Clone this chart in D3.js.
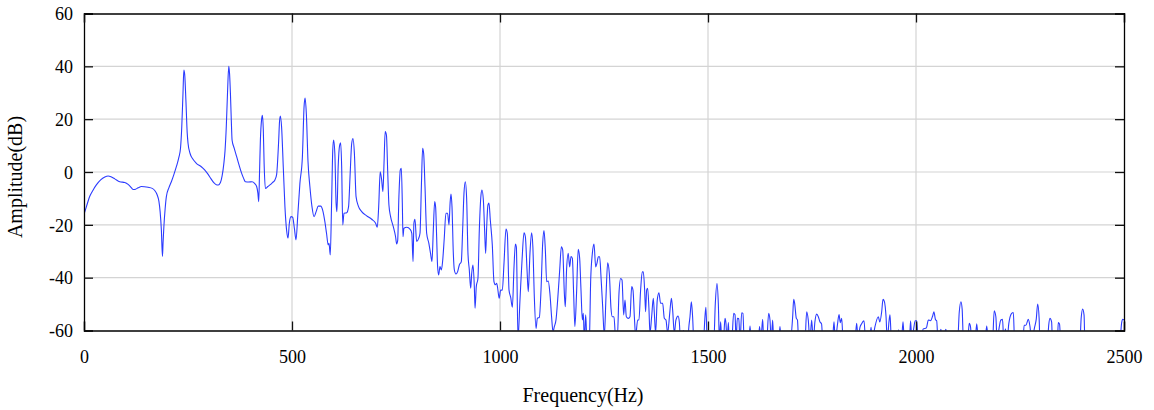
<!DOCTYPE html>
<html>
<head>
<meta charset="utf-8">
<script src="https://cdn.jsdelivr.net/npm/d3@7"></script>
<style>
  body { margin: 0; background: #fff; }
  svg text { font-family: "Liberation Serif", "Times New Roman", serif; fill: #000; }
</style>
</head>
<body>
<div id="chart"></div>
<script>
// spectrum, [frequency Hz, amplitude dB]; values under -60 are clipped
var lowBand = [
    [0,-16],[6,-13],[13.6,-9.3],[22,-6.8],[29.7,-4.9],[40,-3],[50,-1.9],[58,-1.5],[66,-1.9],[74,-2.6],
    [86,-3.7],[98,-4],[106,-4.7],[112,-5.6],[118,-6.6],[124,-6.5],[130,-6],[138,-5.5],[154,-5.8],[164,-6.2],
    [170,-7],[176,-8.7],[180,-11],[183,-15],[186,-22],[188.6,-32],[190,-27],[192,-20.7],[195,-14],[198,-9.3],
    [204,-6],[210,-3.7],[216,-1],[222,2],[228,5.5],[232,9],[235,17],[238,30],[240,38.6],[242,37],
    [245,27],[248,15],[250,11],[255,7],[262,4.8],[270,3.3],[282,2],[290,0.8],[298,-0.8],[305,-2.5],
    [312,-4],[318,-4.8],[323,-4.9],[328,-4],[332,-1.5],[336,3],[339,8],[342,17],[345,30],[348,40],
    [350,37],[352,29.7],[354,20],[356,12],[361,9],[367,5.8],[373,2.5],[379,-0.5],[384,-2.5],[388,-3.7],
    [396,-3.8],[404,-3.7],[410,-4.3],[415,-5.5],[418,-8],[420,-11.2],[422,0],[424,12],[427,20],[429,21.5],
    [431,16],[433,3],[436,-6.2],[442,-5.5],[447,-4.9],[453,-4],[459,-3],[463,-1],[465,3],[468,12],
    [470,19],[472,21.2],[475,17],[479,2],[483,-13.1],[487,-22],[490.4,-25],[493.6,-19.4],[497.6,-16.9],[501.6,-17.1],
    [505.7,-21.3],[509.7,-25.7],[513.7,-16.9],[519,-4.3],[525,5.8],[529,24.7],[531.5,28],[534.5,22],[538.5,3.9],[543,-5.5],
    [548,-13.1],[553,-16.9],[558,-15],[563,-12.9],[569,-12.9],[574,-14.6],[579,-18.8],[583,-23.2],[587,-27.6],[589,-27],
    [592,-31.4],[595,-13.1],[598,8.3],[600,12.1],[603,7],[606,-11.8],[608,-15],[611,2],[614.6,10.2],[617,11.1],
    [619.4,2],[622,-20],[625,-15.6],[631.5,-15.4],[636,-13.1],[639.5,-1.8],[643.5,10.8],[646.7,12.7],[650,7],[654,-9.3],
    [659.5,-12.9],[667.5,-15],[679.5,-16.6],[691.6,-17.9],[701,-19.4],[705,-20.9],[708.4,-13.1],[712,0.1],[715.5,-3],[718.5,-7.4],
    [721.2,3.3],[724,15.3],[727,14],[730,0.5],[733,-12.5],[737,-16.9],[743.5,-20.7],[749,-24.5],[751.6,-27.2],[754,-26],
    [757,-9.3],[760.4,0.8],[762.8,1.4],[765.2,-11.8],[766.8,-24.5],[769,-21.3],[776,-20.9],[784,-21.7],[788,-23.2],[791,-33.9],
    [793,-19.4],[795.6,-17.9],[799.6,-26.3],[804.5,-25.1],[807.7,-23.2],[811,-5.5],[814,9],[816.5,7],[819.7,-5.5],[823.7,-23.2],
    [829,-27],[833,-30.8],[836.5,-33.9],[839.7,-21.9],[843,-11.2],[845.3,-13.4],[847.7,-24.5],[850,-35.8],[852.5,-39],[855.7,-35.8],
    [859,-37.1],[862,-33.9],[866,-25.1],[870,-15.6],[874,-15.6],[877.4,-20],[880,-11.8],[882.2,-8.3],[884.6,-13.1],[887.8,-30.8],
    [890.2,-37],[894.2,-38.6],[898.2,-37.7],[902.2,-35.2],[907,-33.9],[910.2,-21.9],[913.4,-8.1],[916.6,-3.7],[919.8,-10],[923,-30.8],
    [926.2,-37],[929.5,-44],[932,-38.3],[935,-35.2],[938.3,-43.4],[940,-51.6],[943,-43.4],[947,-40.2],[950.3,-21.9],[954.3,-8.7],
    [956.7,-6.8],[960,-10.6],[963,-21.9],[965.5,-30.8],[968,-20.7],[971,-12.5],[973.5,-11.8],[976.7,-18.2],[981.5,-27.6],[985.5,-41.5],
    [988.8,-42.7],[992,-42.1],[994.4,-44],[998,-47.8]
];

var midBand = [
    [1001.6,-44.7],[1005.6,-44.7],[1009.6,-34.6],[1014.4,-21.6],[1017.6,-23.3],[1021.7,-44.7],[1025.7,-47.5],[1029.7,-51.2],[1033.7,-35.9],[1037,-27.3],
    [1039.3,-28.3],[1043.3,-63],[1048,-48.5],[1053,-33.3],[1057.7,-23],[1061,-24.5],[1065,-37.1],[1068,-45.3],[1072,-30.8],[1076,-23],
    [1079,-28.3],[1082.5,-47.2],[1086.6,-59.2],[1089.8,-55.4],[1094.6,-55],[1098.6,-44.7],[1102.6,-27],[1105.8,-22.2],[1109,-29.5],[1112.2,-41.5],
    [1116,-41.3],[1120,-46],[1124,-54.8],[1127.4,-60.5],[1130.6,-58.5],[1134.6,-56],[1138.6,-48.5],[1143.5,-37.1],[1147.5,-28.3],[1150.7,-29.5],
    [1154.7,-46],[1157,-51],[1160,-37.1],[1164,-30.8],[1167.5,-35.9],[1170.7,-32],[1174,-32.7],[1177,-46],[1180,-58.5],[1184,-46],
    [1188,-29.3],[1191.5,-32.7],[1194.7,-44.7],[1198,-56],[1200.3,-53.5],[1202.7,-64],[1206,-54.1],[1209,-64],[1214.8,-63],[1218,-40.9],
    [1222,-30.8],[1226,-27.3],[1230,-35.9],[1233,-34.6],[1236.4,-32.1],[1239.6,-32.1],[1242.8,-39.7],[1246.8,-51],[1250.8,-62],[1254.8,-47.2],
    [1258.8,-34.4],[1262.8,-38.4],[1266.8,-51.6],[1270,-54.8],[1274,-54.8],[1278,-63],[1282,-63],[1286,-46],[1290,-40.3],[1293.3,-40.9],
    [1297.3,-54.1],[1300.5,-48.5],[1303.7,-54.8],[1308.5,-55.4],[1312.5,-54.8],[1316.5,-43.4],[1319.7,-44.7],[1323,-54.8],[1326,-62],[1331,-56],
    [1334,-56],[1338,-44.7],[1342,-37.8],[1344.5,-37.8],[1347.7,-44.7],[1350,-52.9],[1352.5,-44.7],[1355,-44],[1358,-51.6],[1360.5,-61],
    [1364.5,-54.8],[1368.5,-47.8],[1371,-53.5],[1374,-61],[1378,-48.5],[1382,-45.7],[1386,-49.7],[1391,-49.7],[1395,-55.4],[1399,-56],
    [1403,-61],[1408,-53.5],[1412,-47.8],[1415,-52.2],[1419,-61],[1423,-56],[1428,-54.5],[1431,-56.7],[1434,-64],[1441,-60],
    [1446,-64],[1452,-62],[1454.3,-58],[1456.7,-54.8],[1460,-49.1],[1463,-54.8],[1466,-64],[1489,-64],[1492.7,-54.8],[1495,-51.2],
    [1498,-64],[1514,-64],[1517.6,-49.7],[1521.6,-42.2],[1524.8,-49.7],[1527.5,-64],[1530.4,-56.7],[1533,-64],[1537,-64],[1540.8,-55.4],
    [1543,-57],[1546,-64],[1549,-57],[1551,-64],[1557,-64],[1561.7,-53.5],[1565,-54],[1567.5,-64],[1570.5,-55.4],[1574,-55.5],
    [1577,-64],[1581,-53.3],[1584,-53.5],[1587,-64],[1598,-64],[1601,-58.3],[1604,-64],[1621,-64],[1624,-58.5],[1627,-64],
    [1631.4,-55.8],[1634,-64],[1641,-64],[1645.8,-53.5],[1649,-56],[1652,-64],[1655.4,-56],[1658,-64],[1670,-64],[1673,-58.5],
    [1676,-64]
];

var highBand = [
    [1698,-64],[1703.5,-54.8],[1706,-48.2],[1708.3,-49.7],[1712.3,-55.4],[1715,-56],[1718,-64],[1733,-64],[1737.2,-52.9],[1741,-56],
    [1745,-64],[1749.2,-56],[1753,-64],[1757,-56.7],[1761.2,-53.8],[1765.2,-54.8],[1769,-56.7],[1773,-57.5],[1776,-64],[1799,-64],
    [1802.9,-56.7],[1806,-64],[1811,-58],[1815,-54],[1818,-57],[1821.3,-55.4],[1825,-64],[1853,-64],[1857.4,-57.3],[1861,-64],
    [1865,-59],[1869,-57.5],[1875,-56.3],[1879,-64],[1888,-64],[1892,-58.8],[1895,-64],[1901,-58.8],[1909.5,-54.8],[1913,-56.8],
    [1917.5,-52.9],[1920.7,-48.2],[1923.9,-49],[1928,-54.8],[1931,-64],[1935,-56.7],[1937.5,-54.1],[1941,-64],[1955,-64],[1958,-59.7],
    [1961,-64],[1965,-64],[1968.8,-56.7],[1972,-64],[1984,-64],[1987,-56.3],[1990,-64],[1995,-58.7],[1998,-56.3],[2002,-56.3],
    [2005,-64],[2013,-64],[2017,-59.5],[2025,-59],[2029.7,-56],[2035,-56.3],[2040,-54.5],[2043,-52.9],[2047,-56],[2049.7,-56.3],
    [2053,-64],[2060,-59.5],[2063,-64],[2072,-59.5],[2075,-64],[2100,-64],[2104,-53],[2108,-49.1],[2111,-52],[2114,-64],
    [2124,-64],[2128,-57.3],[2131,-58.5],[2134,-64],[2142,-64],[2146,-57.5],[2150,-64],[2166,-64],[2170,-58.3],[2174,-64],
    [2184,-64],[2188,-52.5],[2192,-54.8],[2195,-64],[2200,-58.8],[2204,-56],[2208,-55.8],[2211,-64],[2215,-59.4],[2219,-64],
    [2223,-57.5],[2230,-53.5],[2234,-53.2],[2237,-64],[2257,-64],[2260,-58],[2264,-58],[2270,-55.8],[2274,-58.5],[2278,-64],
    [2285,-58.8],[2289,-55.8],[2292.5,-50],[2296,-55.4],[2298,-64],[2316,-64],[2319,-58],[2322,-55.4],[2326,-56.7],[2328,-64],
    [2340,-64],[2342,-57],[2345,-57.5],[2348,-64],[2394,-64],[2397,-55.4],[2400.7,-51.9],[2404,-54.2],[2406,-64],[2490,-64],
    [2494.4,-57],[2497,-55.8],[2500,-56]
];

var xTicks = [0, 500, 1000, 1500, 2000, 2500];
var yTicks = [-60, -40, -20, 0, 20, 40, 60];

function drawSpectrum(data, chartSettings) {
    var margin = chartSettings.margin;
    var axisWidth = chartSettings.width - margin.left - margin.right;
    var axisHeight = chartSettings.height - margin.top - margin.bottom;

    var svg = d3.select(chartSettings.container)
        .append("svg")
        .attr("width", chartSettings.width)
        .attr("height", chartSettings.height)
        .append("g")
        .attr("transform", "translate(" + margin.left + "," + margin.top + ")");

    var x = d3.scaleLinear().domain([0, 2500]).range([0, axisWidth]);
    var y = d3.scaleLinear().domain([-60, 60]).range([axisHeight, 0]);

    // grid
    svg.append("g")
        .selectAll("line.gx")
        .data(xTicks.slice(1, -1))
        .enter().append("line")
        .attr("x1", d => x(d)).attr("x2", d => x(d))
        .attr("y1", 0).attr("y2", axisHeight)
        .attr("stroke", "#d4d4d4").attr("stroke-width", 1.2);
    svg.append("g")
        .selectAll("line.gy")
        .data(yTicks.slice(1, -1))
        .enter().append("line")
        .attr("x1", 0).attr("x2", axisWidth)
        .attr("y1", d => y(d)).attr("y2", d => y(d))
        .attr("stroke", "#d4d4d4").attr("stroke-width", 1.2);

    // spectrum line
    svg.append("clipPath").attr("id", "plotclip")
        .append("rect").attr("width", axisWidth).attr("height", axisHeight);

    var line = d3.line()
        .x(d => x(d[0]))
        .y(d => y(d[1]))
        .curve(d3.curveMonotoneX);

    svg.append("path")
        .datum(data)
        .attr("clip-path", "url(#plotclip)")
        .attr("fill", "none")
        .attr("stroke", chartSettings.lineColor)
        .attr("stroke-width", 1.1)
        .attr("d", line);

    // axes, ticks pointing inward; plain hyphen for negatives
    var plain = d => String(d);
    var xAxis = svg.append("g")
        .attr("transform", "translate(0," + axisHeight + ")")
        .call(d3.axisBottom(x).tickValues(xTicks).tickSize(-9).tickPadding(20).tickFormat(plain));
    var yAxis = svg.append("g")
        .call(d3.axisLeft(y).tickValues(yTicks).tickSize(-9).tickPadding(11).tickFormat(plain));
    svg.append("g")
        .call(d3.axisTop(x).tickValues(xTicks).tickSize(-9).tickFormat(""));
    svg.append("g")
        .attr("transform", "translate(" + axisWidth + ",0)")
        .call(d3.axisRight(y).tickValues(yTicks).tickSize(-9).tickFormat(""));

    svg.selectAll("g").attr("font-family", "Liberation Serif").attr("font-size", 18);
    svg.selectAll(".domain").attr("stroke", "#000").attr("stroke-width", 1.3);
    svg.selectAll(".tick line").attr("stroke", "#111").attr("stroke-width", 1.3);
    svg.selectAll(".tick text")
        .style("font-family", "'Liberation Serif', 'Times New Roman', serif")
        .style("font-size", "18px")
        .attr("fill", "#000");
    yAxis.selectAll(".tick text").attr("dy", "0.35em");
    xAxis.selectAll(".tick text").attr("dy", "0.71em");

    svg.append("text")
        .attr("x", 499)
        .attr("y", axisHeight + 71)
        .attr("text-anchor", "middle")
        .style("font-size", "20px")
        .text("Frequency(Hz)");

    svg.append("text")
        .attr("transform", "translate(" + (-62) + "," + (y(0) + 5) + ") rotate(-90)")
        .attr("text-anchor", "middle")
        .style("font-size", "20px")
        .text("Amplitude(dB)");
}

drawSpectrum(lowBand.concat(midBand, highBand), {
    container: "#chart",
    margin: { top: 13.5, right: 30, bottom: 79.5, left: 84 },
    width: 1154,
    height: 410,
    lineColor: "#2b3bff"
});
</script>
</body>
</html>
